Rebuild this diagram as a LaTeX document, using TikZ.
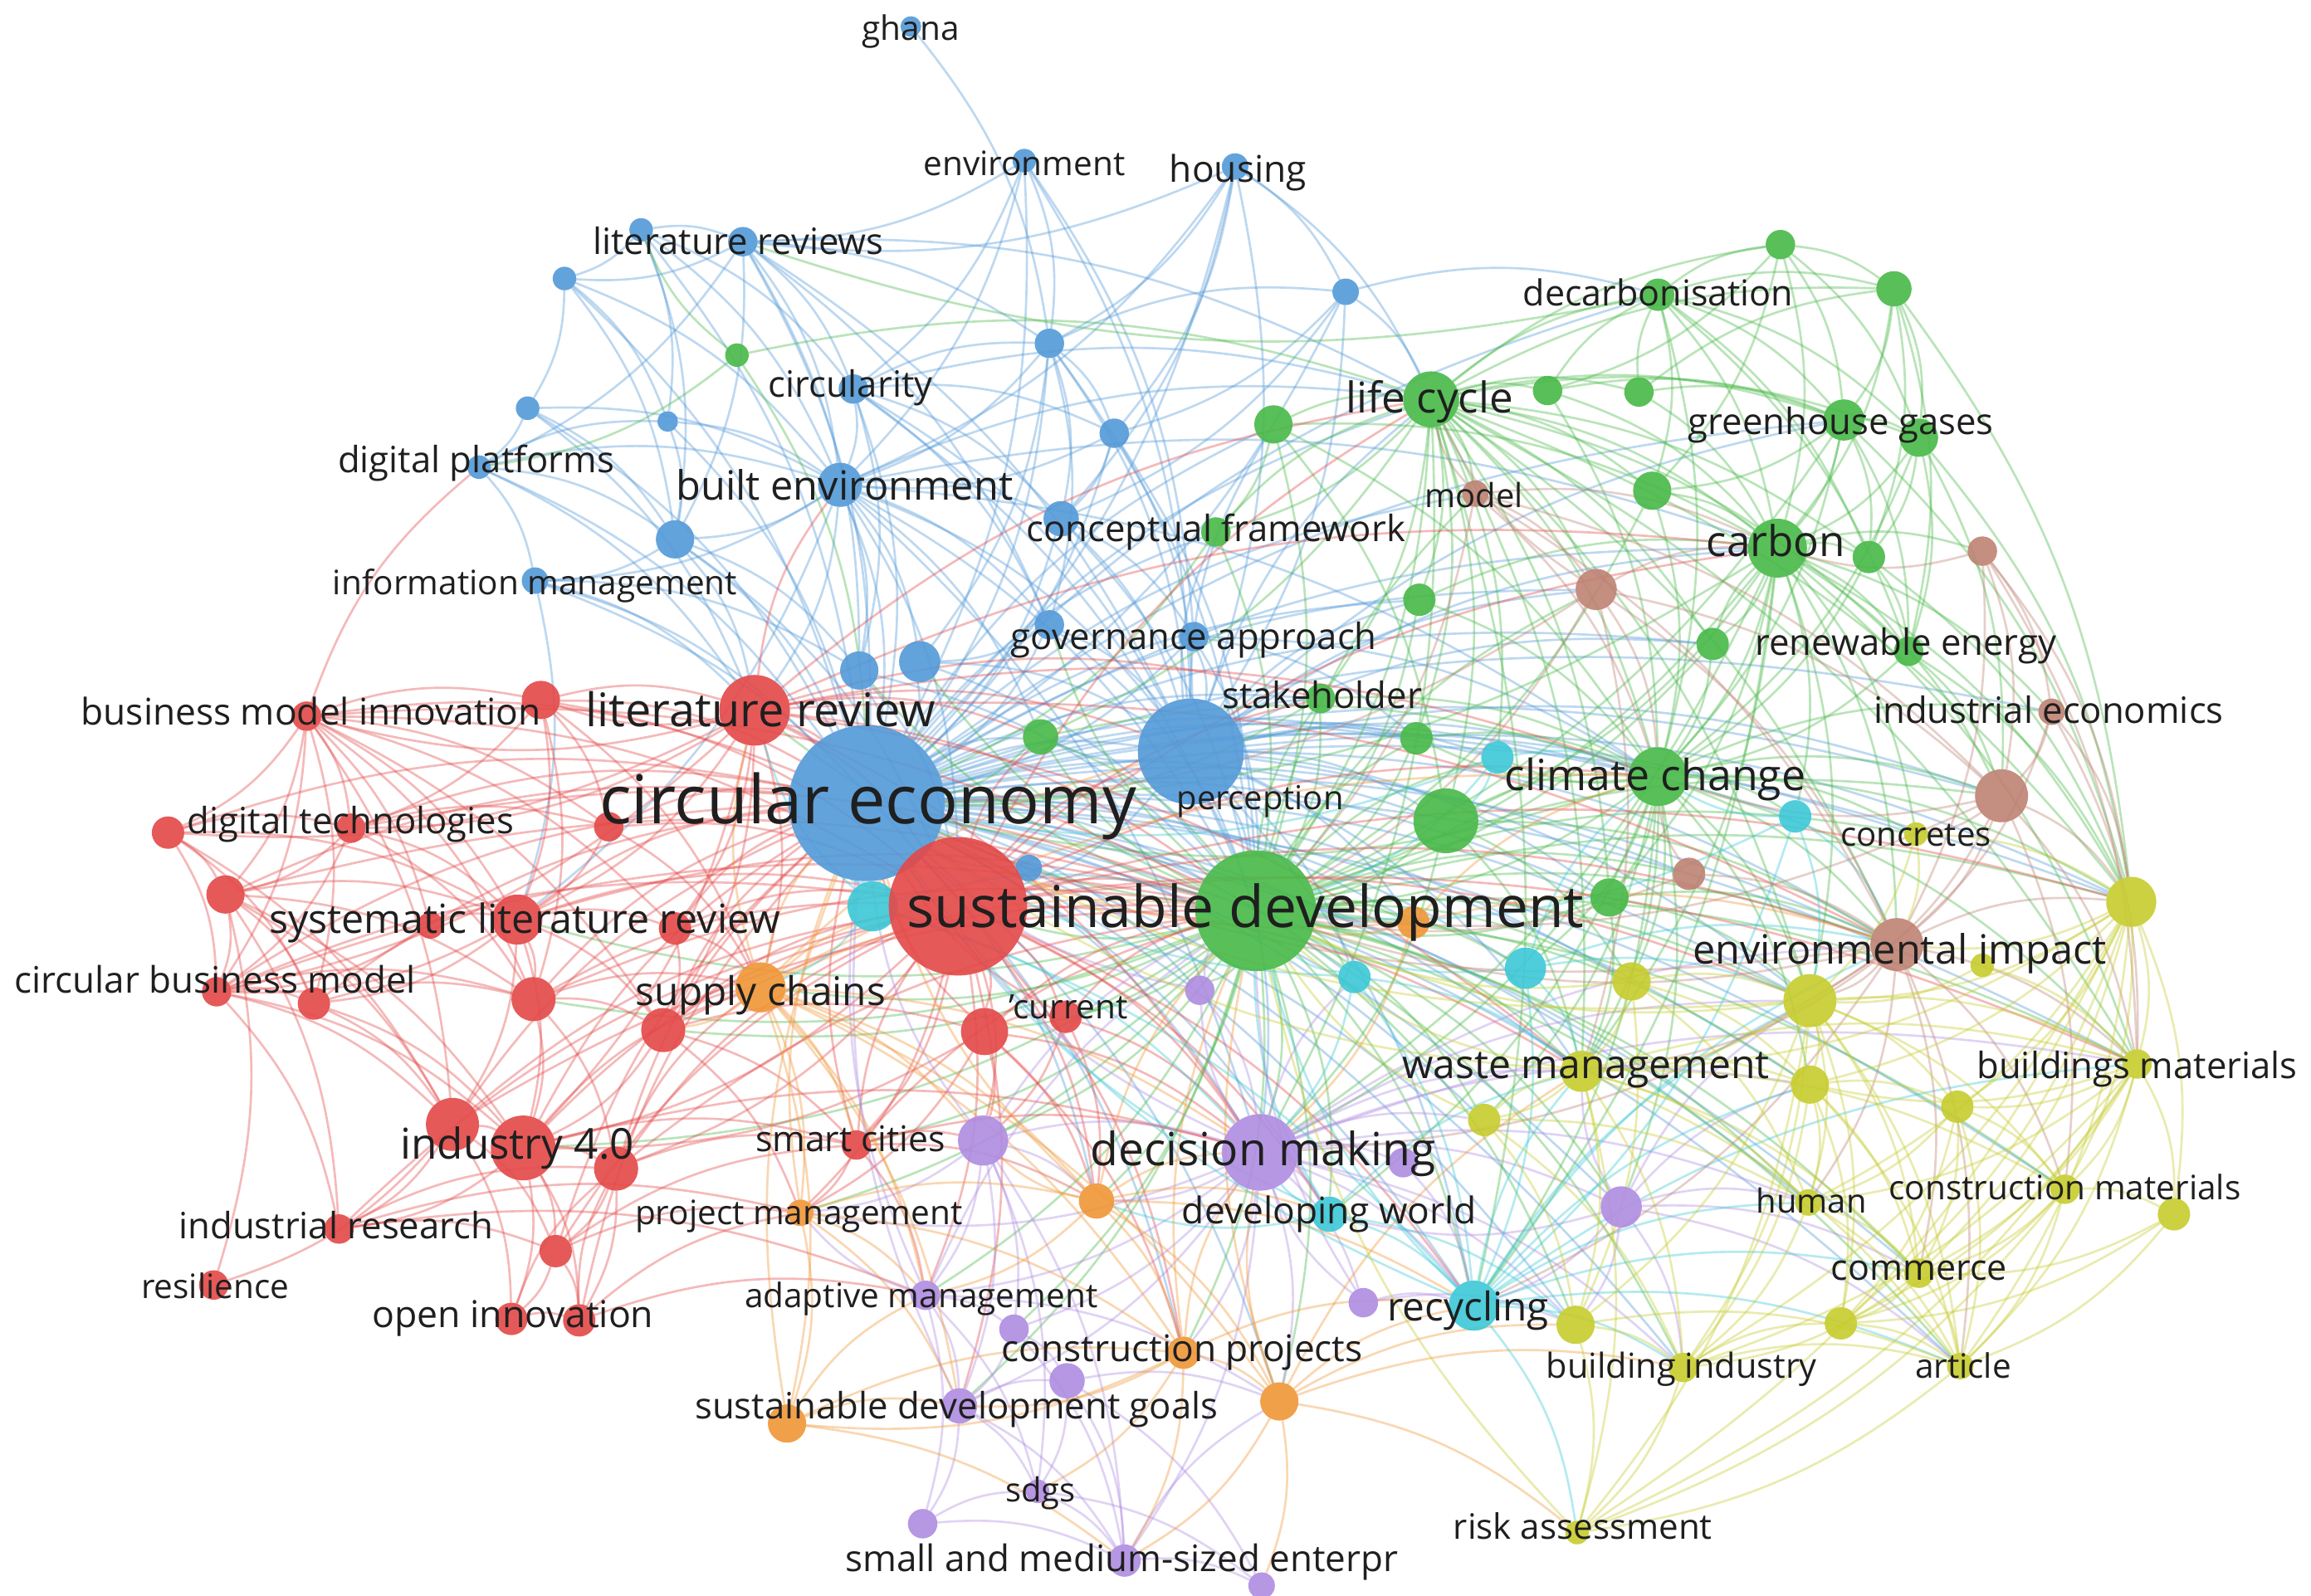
\documentclass[tikz,border=0pt]{standalone}
\usepackage{fontspec}
\setmainfont{Open Sans}
\definecolor{cb}{RGB}{83,153,216}
\definecolor{cr}{RGB}{228,72,72}
\definecolor{cg}{RGB}{72,185,72}
\definecolor{cy}{RGB}{198,204,45}
\definecolor{cp}{RGB}{175,140,225}
\definecolor{cc}{RGB}{60,200,215}
\definecolor{co}{RGB}{240,150,55}
\definecolor{cbr}{RGB}{190,130,115}
\pgfdeclarelayer{edges}
\pgfsetlayers{edges,main}
\tikzset{
  bub/.style={circle,inner sep=0pt,outer sep=0pt,fill opacity=0.9,draw=none},
  lbl/.style={inner sep=0pt,anchor=mid,text=black!88},
  ed/.style={line width=0.85pt,draw opacity=0.38,bend left=15},
}
\newcommand\bub[5]{\node[bub,fill=#5,minimum size=#4*0.04cm] (#1) at (#2,#3) {};}
\newcommand\lab[5]{\node[lbl,font=\fontsize{#4}{#4}\selectfont,yshift=-#4*0.2pt] (#1) at (#2,#3) {#5};}
\begin{document}
\begin{tikzpicture}[x=0.02cm,y=-0.02cm]
\useasboundingbox (0,0) rectangle (1568,1083);
% ---------- blue
\bub{ghana}{618}{18}{7}{cb}
\bub{envt}{695}{109}{8}{cb}
\bub{housing}{838}{113}{9}{cb}
\bub{litrsa}{435}{156}{8}{cb}
\bub{litrs}{504}{164}{10}{cb}
\bub{bfive}{383}{189}{8}{cb}
\bub{bseven}{358}{277}{8}{cb}
\bub{dplat}{325}{317}{8}{cb}
\bub{bnine}{453}{286}{7}{cb}
\bub{circ}{579}{264}{10}{cb}
\bub{btw}{712}{233}{10}{cb}
\bub{bth}{913}{198}{9}{cb}
\bub{bfo}{756}{294}{10}{cb}
\bub{builtenv}{570}{329}{15}{cb}
\bub{btwenty}{458}{366}{13}{cb}
\bub{infomgmt}{363}{394}{9}{cb}
\bub{cfa}{720}{352}{12}{cb}
\bub{gova}{712}{424}{10}{cb}
\bub{gov}{810}{432}{10}{cb}
\bub{bta}{583}{455}{13}{cb}
\bub{btb}{624}{449}{14}{cb}
\bub{bts}{698}{589}{9}{cb}
\bub{perc}{808}{510}{36}{cb}
% ---------- green
\bub{gsix}{500}{241}{8}{cg}
\bub{gfif}{864}{288}{13}{cg}
\bub{gsev}{1050}{265}{10}{cg}
\bub{gsevb}{1112}{266}{10}{cg}
\bub{decarb}{1125}{200}{11}{cg}
\bub{gfna}{1208}{166}{10}{cg}
\bub{gfnb}{1285}{196}{12}{cg}
\bub{ghg}{1251}{285}{14}{cg}
\bub{ghgb}{1302}{297}{13}{cg}
\bub{gfifty}{1121}{333}{13}{cg}
\bub{gfs}{1268}{378}{11}{cg}
\bub{cf}{825}{361}{10}{cg}
\bub{gtsb}{963}{407}{11}{cg}
\bub{renewa}{1162}{437}{11}{cg}
\bub{renew}{1295}{442}{10}{cg}
\bub{stake}{896}{474}{10}{cg}
\bub{gts}{706}{500}{12}{cg}
\bub{gtsv}{961}{501}{11}{cg}
\bub{gtn}{981}{557}{22}{cg}
\bub{gfo}{1092}{609}{13}{cg}
\bub{lifecycle}{971}{271}{19}{cg}
\bub{carbon}{1206}{372}{20}{cg}
\bub{clim}{1125}{527}{20}{cg}
% ---------- brown
\bub{model}{1001}{335}{9}{cbr}
\bub{brb}{1083}{400}{14}{cbr}
\bub{brc}{1345}{374}{10}{cbr}
\bub{indecon}{1392}{483}{9}{cbr}
\bub{brff}{1358}{540}{18}{cbr}
\bub{brfo}{1146}{593}{11}{cbr}
% ---------- cyan
\bub{cte}{1016}{514}{11}{cc}
\bub{cft}{1218}{554}{11}{cc}
\bub{ctf}{919}{663}{11}{cc}
\bub{ctn}{1035}{657}{14}{cc}
\bub{devw}{902}{824}{12}{cc}
\bub{recyc}{1000}{886}{17}{cc}
% ---------- yellow
\bub{concr}{1300}{566}{8}{cy}
\bub{ya}{1446}{612}{17}{cy}
\bub{yb}{1107}{666}{13}{cy}
\bub{yc}{1228}{679}{18}{cy}
\bub{yd}{1345}{655}{8}{cy}
\bub{waste}{1073}{727}{14}{cy}
\bub{bmat}{1450}{722}{10}{cy}
\bub{ye}{1228}{736}{13}{cy}
\bub{yf}{1328}{751}{11}{cy}
\bub{yg}{1007}{760}{11}{cy}
\bub{human}{1227}{816}{9}{cy}
\bub{cmat}{1401}{807}{10}{cy}
\bub{yh}{1475}{824}{11}{cy}
\bub{comm}{1302}{864}{10}{cy}
\bub{yi}{1069}{899}{13}{cy}
\bub{bind}{1142}{928}{10}{cy}
\bub{yj}{1249}{898}{11}{cy}
\bub{article}{1330}{927}{9}{cy}
\bub{risk}{1070}{1040}{8}{cy}
\bub{envimp}{1287}{641}{18}{cbr}
% ---------- purple
\bub{pts}{814}{672}{10}{cp}
\bub{smartp}{667}{774}{17}{cp}
\bub{pdm}{952}{789}{10}{cp}
\bub{prec}{925}{884}{10}{cp}
\bub{pfo}{1100}{819}{14}{cp}
\bub{adapt}{628}{879}{10}{cp}
\bub{cpp}{688}{902}{10}{cp}
\bub{sdg}{651}{954}{12}{cp}
\bub{sdgb}{724}{937}{12}{cp}
\bub{sdgs}{704}{1012}{8}{cp}
\bub{smea}{626}{1034}{10}{cp}
\bub{sme}{763}{1059}{11}{cp}
\bub{smec}{856}{1076}{9}{cp}
\bub{dm}{855}{782}{26}{cp}
% ---------- orange
\bub{supply}{516}{670}{17}{co}
\bub{projm}{543}{823}{9}{co}
\bub{otwo}{744}{815}{12}{co}
\bub{cproj}{803}{918}{11}{co}
\bub{othree}{868}{951}{13}{co}
\bub{ofour}{534}{966}{13}{co}
\bub{otf}{959}{626}{11}{co}
% ---------- red
\bub{litrev}{512}{482}{24}{cr}
\bub{bmi}{208}{486}{10}{cr}
\bub{rtwo}{367}{475}{13}{cr}
\bub{dta}{114}{565}{11}{cr}
\bub{dt}{238}{562}{10}{cr}
\bub{rthree}{413}{561}{10}{cr}
\bub{rfour}{153}{607}{13}{cr}
\bub{slra}{292}{628}{9}{cr}
\bub{slr}{351}{624}{17}{cr}
\bub{slrb}{458}{630}{11}{cr}
\bub{cbm}{147}{673}{10}{cr}
\bub{rfive}{213}{681}{11}{cr}
\bub{rsix}{362}{678}{15}{cr}
\bub{rseven}{450}{699}{15}{cr}
\bub{rts}{668}{700}{16}{cr}
\bub{curr}{723}{690}{11}{cr}
\bub{ifa}{307}{763}{18}{cr}
\bub{ifo}{355}{779}{22}{cr}
\bub{ifb}{418}{793}{15}{cr}
\bub{smart}{581}{777}{10}{cr}
\bub{indres}{230}{834}{10}{cr}
\bub{reight}{377}{849}{11}{cr}
\bub{resil}{145}{872}{10}{cr}
\bub{oia}{347}{895}{11}{cr}
\bub{oib}{393}{896}{11}{cr}
% ---------- big ones
\bub{ce}{588}{545}{53}{cb}
\bub{ctt}{592}{615}{17}{cc}
\bub{redbig}{650}{615}{47}{cr}
\bub{sd}{852}{618}{41}{cg}
% ================= edges
\begin{pgfonlayer}{edges}
\fill[white] (0,0) rectangle (1568,1083);
\foreach \s/\t in {ghana/btw,envt/btw,envt/circ,envt/builtenv,envt/ce,envt/litrs,envt/perc,envt/gov,
housing/bth,housing/bfo,housing/builtenv,housing/ce,housing/perc,housing/litrs,housing/lifecycle,housing/cfa,housing/btw,
litrsa/bfive,litrsa/litrs,litrsa/builtenv,litrsa/bnine,litrsa/circ,litrsa/ce,litrsa/btwenty,
litrs/bfive,litrs/circ,litrs/builtenv,litrs/ce,litrs/btw,litrs/gova,litrs/btwenty,litrs/dplat,litrs/perc,litrs/bta,
bfive/builtenv,bfive/bnine,bfive/btwenty,bfive/ce,bfive/bseven,
bseven/dplat,bseven/builtenv,bseven/btwenty,bseven/ce,
dplat/builtenv,dplat/infomgmt,dplat/ce,dplat/btwenty,dplat/bnine,
bnine/builtenv,bnine/ce,bnine/btwenty,
circ/builtenv,circ/ce,circ/btw,circ/bfo,circ/cfa,circ/gova,circ/bta,circ/perc,
btw/builtenv,btw/ce,btw/bfo,btw/cfa,btw/gova,btw/bth,btw/perc,btw/btb,
bth/ce,bth/perc,bth/lifecycle,bth/decarb,bth/bfo,bth/cfa,
bfo/ce,bfo/builtenv,bfo/cfa,bfo/perc,
builtenv/ce,builtenv/btwenty,builtenv/infomgmt,builtenv/cfa,builtenv/gova,builtenv/bta,builtenv/btb,builtenv/perc,builtenv/litrev,builtenv/redbig,builtenv/sd,
btwenty/ce,btwenty/infomgmt,btwenty/bta,btwenty/litrev,
infomgmt/ce,infomgmt/bta,infomgmt/litrev,
cfa/ce,cfa/perc,cfa/gov,cfa/sd,gova/ce,gova/perc,gova/btb,gov/ce,gov/perc,gov/sd,
bta/ce,btb/ce,bts/ce,
ce/perc,ce/sd,ce/clim,ce/lifecycle,ce/carbon,ce/waste,ce/dm,ce/recyc,ce/envimp,ce/yc,ce/ya,ce/bmat,ce/yb,ce/gtn,ce/devw,ce/ctn,ce/brff,ce/indecon,
perc/sd,perc/clim,perc/lifecycle,perc/dm,perc/gtn,perc/carbon,
ce/gts,ce/gtsv,ce/cte,ce/ctf,ce/otf,ce/pts,ce/gfo,ce/brfo,ce/yg,ce/ye,ce/gfif,ce/cf,ce/stake,ce/gtsb,ce/renewa,ce/ghg,ce/decarb,ce/model,ce/brb,ce/cft,ce/concr,ce/otwo,ce/cproj,ce/othree,ce/pfo,ce/human,ce/comm,ce/yi,ce/bind,ce/article,ce/cmat,
perc/gts,perc/gtsv,perc/stake,perc/cte,perc/ctf,perc/otf,perc/gfo,perc/brb,perc/envimp,perc/waste,perc/recyc,perc/yc,perc/ya,perc/brff,perc/redbig,perc/gfif,perc/cf,perc/gtsb,perc/renewa,perc/ghg,
builtenv/lifecycle,builtenv/clim,builtenv/dm,builtenv/carbon,builtenv/gts,builtenv/slr,
litrs/lifecycle,circ/sd,circ/lifecycle,btw/sd,bfo/sd,gov/clim,gov/gtsv,gova/sd,bta/sd,btb/sd,btb/perc,bta/redbig,
infomgmt/redbig,infomgmt/slr,btwenty/redbig,bseven/litrev,dplat/litrev}
  \draw[ed,cb] (\s) to (\t);
\foreach \s/\t in {gsix/dplat,gsix/lifecycle,gsix/ce,gsix/litrsa,
gfif/lifecycle,gfif/carbon,gfif/sd,gfif/clim,gfif/gtn,gfif/cf,
lifecycle/gsev,lifecycle/gsevb,lifecycle/decarb,lifecycle/ghg,lifecycle/ghgb,lifecycle/gfifty,lifecycle/carbon,lifecycle/gfs,lifecycle/renewa,lifecycle/renew,lifecycle/clim,lifecycle/sd,lifecycle/gtn,lifecycle/gtsb,lifecycle/stake,lifecycle/cf,lifecycle/gfo,lifecycle/ya,lifecycle/envimp,lifecycle/waste,lifecycle/yc,lifecycle/bmat,lifecycle/gfnb,lifecycle/gfna,lifecycle/gts,
gsev/decarb,gsev/ghg,gsev/carbon,gsev/clim,gsevb/decarb,gsevb/ghg,gsevb/carbon,gsevb/gfnb,
decarb/gfna,decarb/gfnb,decarb/ghg,decarb/ghgb,decarb/carbon,decarb/gfifty,decarb/clim,decarb/gfs,decarb/renew,decarb/litrs,
gfna/gfnb,gfna/ghg,gfna/ghgb,gfna/carbon,gfna/gfifty,gfna/gsev,
gfnb/ghg,gfnb/ghgb,gfnb/carbon,gfnb/gfs,gfnb/renew,gfnb/ya,
ghg/ghgb,ghg/carbon,ghg/gfs,ghg/renew,ghg/clim,ghg/gfifty,ghg/sd,ghg/ya,
ghgb/carbon,ghgb/gfs,ghgb/renew,ghgb/ya,ghgb/brff,ghgb/clim,
gfifty/carbon,gfifty/clim,gfifty/sd,
carbon/gfs,carbon/renewa,carbon/renew,carbon/clim,carbon/sd,carbon/gtn,carbon/ya,carbon/envimp,carbon/brff,carbon/cft,carbon/gfo,carbon/yc,carbon/bmat,carbon/ce,
gfs/renew,gfs/clim,gfs/ya,cf/sd,cf/lifecycle,cf/ce,gtsb/sd,gtsb/clim,gtsb/carbon,
renewa/clim,renewa/sd,renewa/carbon,renew/clim,renew/brff,renew/ya,
stake/sd,stake/ce,stake/clim,gts/sd,gts/ce,gts/clim,gtsv/sd,gtsv/clim,gtn/sd,gtn/clim,
clim/sd,clim/gfo,clim/ya,clim/envimp,clim/yc,clim/waste,clim/bmat,clim/brff,clim/cft,clim/dm,clim/recyc,clim/ce,
gfo/sd,sd/dm,sd/waste,sd/envimp,sd/yc,sd/ya,sd/bmat,sd/recyc,sd/redbig,sd/litrev,sd/supply,sd/ifo,sd/smartp,sd/ye,sd/ctn,sd/cmat,sd/article,sd/yi,
sd/ctf,sd/otf,sd/pts,sd/rts,sd/curr,sd/otwo,sd/cproj,sd/othree,sd/devw,sd/pfo,sd/yg,sd/yb,sd/human,sd/comm,sd/bind,sd/concr,sd/brfo,sd/brff,sd/model,sd/brb,sd/gts,sd/gtsv,sd/stake,sd/cte,sd/bta,sd/btb,sd/gova,sd/smart,sd/projm,sd/adapt,sd/sdg,sd/cpp,sd/slr,sd/rseven,sd/rsix,
clim/gtsv,clim/cte,clim/ctn,clim/yb,clim/ye,clim/yg,clim/pfo,clim/devw,clim/concr,clim/indecon,
lifecycle/brb,lifecycle/model,lifecycle/gtsv,lifecycle/cte,lifecycle/dm,lifecycle/recyc,
carbon/indecon,carbon/brc,carbon/concr,carbon/waste,carbon/recyc,carbon/dm,
gtn/yb,gtn/waste,gtn/dm,gtn/envimp,gfo/waste,gfo/yc,gfo/envimp}
  \draw[ed,cg] (\s) to (\t);
\foreach \s/\t in {litrev/ce,litrev/redbig,litrev/bmi,litrev/rtwo,litrev/dt,litrev/slr,litrev/slrb,litrev/ifo,litrev/rseven,litrev/supply,litrev/sd,litrev/cbm,litrev/dta,litrev/perc,litrev/clim,
bmi/rtwo,bmi/dta,bmi/dt,bmi/rfour,bmi/slr,bmi/slra,bmi/cbm,bmi/rfive,bmi/rsix,bmi/ifa,bmi/redbig,bmi/ce,bmi/rthree,bmi/slrb,bmi/rseven,bmi/dplat,
rtwo/dt,rtwo/slr,rtwo/rsix,rtwo/redbig,rtwo/ce,rtwo/rthree,
dta/rfour,dta/dt,dta/slr,dta/cbm,dta/rfive,dta/ifa,dta/ce,
dt/rfour,dt/slr,dt/rsix,dt/cbm,dt/ce,dt/rthree,rthree/slr,rthree/ce,rthree/redbig,
rfour/cbm,rfour/slr,rfour/rfive,rfour/rsix,rfour/ifa,rfour/indres,rfour/ce,rfour/ifo,rfour/resil,
slra/slr,slra/cbm,slr/ce,slr/redbig,slr/cbm,slr/rfive,slr/rsix,slr/rseven,slr/ifo,slr/slrb,slr/ifa,
slrb/ce,slrb/redbig,slrb/rseven,cbm/rfive,cbm/rsix,cbm/ifa,cbm/ifo,cbm/indres,cbm/redbig,cbm/ce,
rfive/rsix,rfive/ifa,rfive/ifo,rfive/ce,rsix/rseven,rsix/ifo,rsix/ce,rsix/redbig,rsix/ifb,
rseven/ce,rseven/redbig,rseven/ifo,rseven/supply,rseven/rts,
redbig/ce,redbig/rts,redbig/curr,redbig/ifo,redbig/ifb,redbig/smart,redbig/sd,redbig/dm,redbig/clim,redbig/waste,
rts/ce,rts/curr,rts/sd,rts/ifo,
ifa/ifo,ifa/indres,ifa/resil,ifa/oia,ifa/reight,ifa/ce,ifa/redbig,
ifo/ifb,ifo/indres,ifo/reight,ifo/oia,ifo/oib,ifo/ce,ifo/redbig,ifo/smart,
ifb/reight,ifb/oib,ifb/ce,ifb/redbig,ifb/smart,indres/reight,indres/ifb,indres/redbig,
reight/oia,reight/oib,reight/ce,reight/redbig,oia/oib,oia/ifb,oib/ifb,oib/ce,
smart/ce,smart/redbig,smart/sd,curr/ce,curr/sd,
bmi/sd,dt/sd,rfour/sd,slr/sd,cbm/sd,rsix/sd,rseven/sd,ifo/dm,ifo/supply,ifa/sd,ifb/sd,ifb/supply,
redbig/perc,redbig/lifecycle,redbig/carbon,redbig/envimp,redbig/yc,redbig/ya,redbig/recyc,redbig/devw,redbig/otwo,redbig/cproj,redbig/sdg,redbig/adapt,redbig/gts,redbig/stake,redbig/bmat,redbig/smartp,redbig/projm,
litrev/builtenv,litrev/dm,litrev/envimp,litrev/carbon,litrev/lifecycle,litrev/gts,litrev/stake,litrev/waste,
rts/dm,rts/smartp,rts/otwo,rts/projm,rts/cproj,curr/dm,curr/smartp,curr/otwo,smart/dm,smart/smartp,smart/projm,smart/adapt,smart/otwo,
reight/smart,reight/projm,oib/projm,oib/adapt,indres/adapt,indres/projm,rseven/projm,rseven/smart,rsix/supply,slrb/supply,rthree/supply,rtwo/supply,rtwo/litrev}
  \draw[ed,cr] (\s) to (\t);
\foreach \s/\t in {smartp/ce,smartp/sd,smartp/dm,smartp/sdg,smartp/adapt,smartp/cpp,
dm/ce,dm/recyc,dm/devw,dm/pfo,dm/pdm,dm/sdg,dm/sme,dm/adapt,dm/cpp,dm/waste,dm/yc,dm/envimp,
pfo/yi,pfo/waste,pfo/yc,pfo/recyc,pfo/human,pfo/bind,
adapt/sdg,adapt/smea,adapt/sdgs,adapt/cpp,adapt/ce,adapt/sd,cpp/sdg,cpp/sdgb,cpp/sme,
sdg/sdgs,sdg/smea,sdg/sme,sdg/sdgb,sdg/ce,sdgb/sdgs,sdgb/sme,sdgb/smec,
sdgs/sme,sdgs/smec,smea/sme,sme/smec,pts/ce,pts/sd,pts/dm,prec/recyc,prec/dm,prec/sd,pdm/recyc,
dm/otwo,dm/projm,dm/cproj,dm/othree,dm/yi,dm/bind,dm/yg,dm/human,dm/bmat,dm/ye,dm/pts,dm/ctf,dm/prec,
smartp/otwo,smartp/projm,smartp/sme,smartp/sdgs,adapt/projm,adapt/othree,sdgb/othree,sme/othree,smea/sdgs,
pfo/article,pfo/comm,pfo/ye,pfo/devw,prec/yi}
  \draw[ed,cp] (\s) to (\t);
\foreach \s/\t in {supply/ce,supply/redbig,supply/sd,supply/projm,supply/otwo,supply/dm,supply/cproj,supply/litrev,
projm/otwo,projm/ofour,projm/cproj,projm/ce,otwo/cproj,otwo/othree,otwo/sd,otwo/dm,otwo/ce,
cproj/othree,cproj/ofour,cproj/sd,cproj/sme,cproj/recyc,othree/sme,othree/sd,othree/dm,othree/recyc,othree/risk,
ofour/sdg,ofour/ce,ofour/cproj,otf/sd,otf/ce,
supply/rseven,supply/smart,supply/smartp,supply/adapt,supply/sdg,supply/ofour,supply/othree,supply/perc,supply/clim,
otwo/smartp,otwo/adapt,otwo/recyc,otwo/devw,cproj/dm,cproj/sdg,cproj/sdgs,othree/smec,othree/yi,othree/bind,othree/waste,
ofour/adapt,ofour/sme,projm/adapt,projm/sdg,otf/dm,otf/clim,otf/envimp}
  \draw[ed,co] (\s) to (\t);
\foreach \s/\t in {ctt/ce,ctt/sd,ctt/redbig,ctt/recyc,cte/clim,cte/sd,cte/ce,cft/clim,cft/sd,cft/yc,cft/recyc,
ctf/sd,ctf/ce,ctf/recyc,ctf/dm,ctn/sd,ctn/recyc,ctn/waste,devw/dm,devw/recyc,devw/sd,devw/ce,
recyc/sd,recyc/ce,recyc/waste,recyc/yi,recyc/bind,recyc/yc,recyc/ye,
recyc/article,recyc/comm,recyc/human,recyc/bmat,recyc/envimp,recyc/risk,devw/waste,devw/yi,devw/otwo,
ctn/yc,ctn/envimp,ctn/clim,ctf/waste,cte/gtn,cft/envimp,ctt/supply,ctt/dm,ctt/litrev}
  \draw[ed,cc] (\s) to (\t);
\foreach \s/\t in {model/lifecycle,model/carbon,model/brb,model/envimp,model/brff,
brb/carbon,brb/clim,brb/envimp,brb/brff,brb/sd,brb/ce,brc/brff,brc/carbon,brc/envimp,brc/indecon,brc/bmat,
indecon/brff,indecon/envimp,indecon/ya,indecon/bmat,brff/envimp,brff/clim,brff/sd,brff/ya,brff/yc,
brfo/sd,brfo/envimp,brfo/clim,envimp/sd,envimp/ce,envimp/yc,envimp/waste,envimp/bmat,envimp/cmat,envimp/ya,
envimp/article,envimp/comm,envimp/human,envimp/recyc,envimp/dm,brff/bmat,brff/concr,brff/cmat,model/clim,model/sd,brb/lifecycle,brb/waste,brc/ya}
  \draw[ed,cbr] (\s) to (\t);
\foreach \s/\t in {ya/yc,ya/envimp,ya/bmat,ya/yf,ya/cmat,ya/yh,ya/comm,ya/article,ya/ye,ya/waste,ya/human,ya/yj,
yb/waste,yb/yc,yb/sd,yb/ye,
yc/waste,yc/bmat,yc/ye,yc/yf,yc/human,yc/cmat,yc/comm,yc/article,yc/bind,yc/yj,yc/yi,yc/sd,yc/ce,
yd/yc,yd/bmat,concr/ya,concr/yc,concr/envimp,
waste/ye,waste/yg,waste/yi,waste/bind,waste/human,waste/bmat,waste/sd,waste/ce,waste/article,waste/risk,
bmat/ye,bmat/yf,bmat/cmat,bmat/yh,bmat/comm,bmat/article,bmat/human,bmat/bind,bmat/yj,bmat/risk,
ye/yf,ye/human,ye/comm,ye/article,yf/cmat,yf/comm,yf/article,yf/human,yg/yi,yg/waste,yg/sd,
human/comm,human/article,human/bind,cmat/yh,cmat/comm,cmat/article,cmat/yj,yh/article,yh/comm,
comm/article,comm/yj,comm/bind,yi/bind,yi/risk,yi/article,bind/yj,bind/article,bind/risk,
yj/article,article/risk,risk/sd,
ya/risk,ya/bind,yc/risk,waste/comm,waste/cmat,yb/human,yb/yi,yg/human,yg/bind,ye/bind,ye/yj,yf/yj,yh/yj,cmat/risk}
  \draw[ed,cy] (\s) to (\t);
\end{pgfonlayer}
% ================= labels
\lab{lghana}{618}{18}{13}{ghana}
\lab{lenvt}{695}{110}{13}{environment}
\lab{lhousing}{840}{114}{14.2}{housing}
\lab{llitrs}{501}{163}{14}{literature reviews}
\lab{ldecarb}{1125}{198}{13.8}{decarbonisation}
\lab{lcirc}{577}{260}{14}{circularity}
\lab{llife}{970}{270}{16.4}{life cycle}
\lab{lghg}{1249}{285}{14}{greenhouse gases}
\lab{ldplat}{323}{311}{14}{digital platforms}
\lab{lbuilt}{573}{329}{15.6}{built environment}
\lab{lmodel}{1000}{335}{12.8}{model}
\lab{lcf}{825}{358}{14}{conceptual framework}
\lab{lcarbon}{1205}{367}{16.4}{carbon}
\lab{linfo}{363}{394}{13}{information management}
\lab{lgov}{810}{431}{14}{governance approach}
\lab{lrenew}{1293}{435}{14}{renewable energy}
\lab{lstake}{897}{471}{14}{stakeholder}
\lab{lbmi}{211}{482}{14.2}{business model innovation}
\lab{llitrev}{516}{482}{17.9}{literature review}
\lab{lindecon}{1390}{481}{14}{industrial economics}
\lab{lce}{589}{545}{26}{circular economy}
\lab{lclim}{1123}{526}{16.6}{climate change}
\lab{lperc}{855}{540}{12.8}{perception}
\lab{ldt}{238}{556}{14}{digital technologies}
\lab{lconcr}{1300}{565}{12.9}{concretes}
\lab{lslr}{356}{623}{15.5}{systematic literature review}
\lab{lsd}{845}{617}{22.3}{sustainable development}
\lab{lenvimp}{1289}{644}{15.6}{environmental impact}
\lab{lcbm}{146}{664}{14.1}{circular business model}
\lab{lsupply}{516}{672}{15.3}{supply chains}
\lab{lcurr}{725}{682}{13}{'current}
\lab{lwaste}{1076}{722}{15.4}{waste management}
\lab{lbmat}{1450}{722}{14}{buildings materials}
\lab{lifo}{351}{776}{16.4}{industry 4.0}
\lab{lsmart}{577}{772}{13.7}{smart cities}
\lab{ldm}{857}{780}{17.7}{decision making}
\lab{lindres}{228}{831}{14}{industrial research}
\lab{lprojm}{542}{822}{13}{project management}
\lab{ldevw}{902}{821}{14.2}{developing world}
\lab{lhuman}{1229}{814}{12.8}{human}
\lab{lcmat}{1401}{805}{13}{construction materials}
\lab{lcomm}{1302}{859}{13.8}{commerce}
\lab{lresil}{146}{872}{13}{resilience}
\lab{loi}{348}{891}{14.3}{open innovation}
\lab{ladapt}{625}{878}{13}{adaptive management}
\lab{lrecyc}{996}{886}{15.3}{recycling}
\lab{lcproj}{802}{914}{14.2}{construction projects}
\lab{lbind}{1141}{926}{13.3}{building industry}
\lab{larticle}{1332}{926}{13}{article}
\lab{lsdg}{649}{953}{14}{sustainable development goals}
\lab{lsdgs}{706}{1010}{12.8}{sdgs}
\lab{lrisk}{1074}{1035}{13.5}{risk assessment}
\lab{lsme}{761}{1057}{14.1}{small and medium-sized enterpr}
\end{tikzpicture}
\end{document}
